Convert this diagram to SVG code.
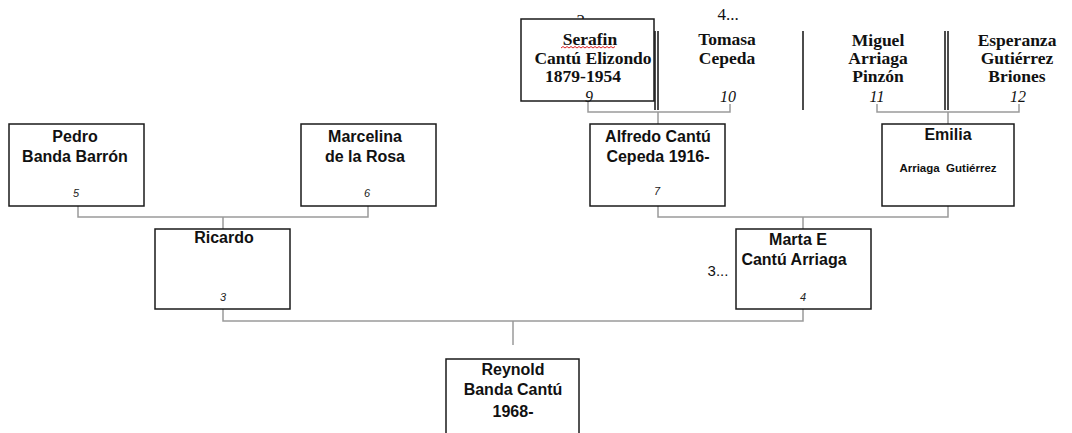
<svg xmlns="http://www.w3.org/2000/svg" width="1072" height="433" viewBox="0 0 1072 433">
<style>
.box{fill:#fff;stroke:#1a1a1a;stroke-width:1.5}
.con{fill:none;stroke:#9a9a9a;stroke-width:1.5}
.bar{stroke:#111;stroke-width:1.5}
.ns{font-family:"Liberation Sans",Arial,sans-serif;font-weight:bold;font-size:16px;fill:#111;text-anchor:middle}
.num{font-family:"Liberation Sans",Arial,sans-serif;font-style:italic;font-size:11px;fill:#222;text-anchor:middle}
.sf{font-family:"Liberation Serif","Times New Roman",serif;font-weight:bold;font-size:17.5px;fill:#111;text-anchor:middle}
.sn{font-family:"Liberation Serif","Times New Roman",serif;font-style:italic;font-size:16px;fill:#111;text-anchor:middle}
.sr{font-family:"Liberation Serif","Times New Roman",serif;font-size:17px;fill:#111;text-anchor:middle}
</style>
<rect width="1072" height="433" fill="#fff"/>
<g id="connectors">
<path class="con" d="M588 101V112H730V104M658 112V124"/>
<path class="con" d="M877 104V112H1019V104M948 112V124"/>
<path class="con" d="M78 206V217H368V206M223 217V229"/>
<path class="con" d="M658 206V217H948V206M803 217V229"/>
<path class="con" d="M223 309V321H803V309M513 321V345"/>
</g>
<g id="gen4-markers">
<text class="sr" x="587" y="26">2...</text>
<line class="bar" x1="655" y1="31" x2="655" y2="110"/>
<line class="bar" x1="658" y1="31" x2="658" y2="110"/>
<line class="bar" x1="803" y1="31" x2="803" y2="110"/>
<line class="bar" x1="945" y1="31" x2="945" y2="110"/>
<line class="bar" x1="948" y1="31" x2="948" y2="110"/>
</g>
<g id="n9">
<rect class="box" x="521" y="19" width="133" height="82"/>
<text class="sf" x="590" y="45">Serafin</text>
<path d="M561 48l2 -1.5l2 1.5l2 -1.5l2 1.5l2 -1.5l2 1.5l2 -1.5l2 1.5l2 -1.5l2 1.5l2 -1.5l2 1.5l2 -1.5l2 1.5l2 -1.5l2 1.5l2 -1.5l2 1.5l2 -1.5l2 1.5l2 -1.5l2 1.5l2 -1.5l2 1.5l2 -1.5l2 1.5l2 -1.5" fill="none" stroke="#d22" stroke-width="1"/>
<text class="sf" x="593" y="64">Cantú Elizondo</text>
<text class="sf" x="583" y="82">1879-1954</text>
<text class="sn" x="589" y="102">9</text>
</g>
<g id="n10">
<text class="sr" x="728" y="20">4...</text>
<text class="sf" x="727" y="45">Tomasa</text>
<text class="sf" x="727" y="64">Cepeda</text>
<text class="sn" x="728" y="102">10</text>
</g>
<g id="n11">
<text class="sf" x="878" y="46">Miguel</text>
<text class="sf" x="878" y="64">Arriaga</text>
<text class="sf" x="878" y="82">Pinzón</text>
<text class="sn" x="877" y="102">11</text>
</g>
<g id="n12">
<text class="sf" x="1017" y="46">Esperanza</text>
<text class="sf" x="1017" y="64">Gutiérrez</text>
<text class="sf" x="1017" y="82">Briones</text>
<text class="sn" x="1018" y="102">12</text>
</g>
<g id="n5">
<rect class="box" x="9" y="124" width="135" height="82"/>
<text class="ns" x="75" y="142">Pedro</text>
<text class="ns" x="75" y="162">Banda Barrón</text>
<text class="num" x="76" y="197">5</text>
</g>
<g id="n6">
<rect class="box" x="301" y="124" width="135" height="82"/>
<text class="ns" x="365" y="142">Marcelina</text>
<text class="ns" x="365" y="162">de la Rosa</text>
<text class="num" x="367" y="197">6</text>
</g>
<g id="n7">
<rect class="box" x="590" y="124" width="135" height="82"/>
<text class="ns" x="658" y="142">Alfredo Cantú</text>
<text class="ns" x="658" y="162">Cepeda 1916-</text>
<text class="num" x="657" y="195">7</text>
</g>
<g id="n8">
<rect class="box" x="882" y="124" width="132" height="82"/>
<text class="ns" x="948" y="140">Emilia</text>
<text class="ns" x="948" y="172" style="font-size:11.5px" xml:space="preserve">Arriaga  Gutiérrez</text>
</g>
<g id="n3">
<rect class="box" x="155" y="229" width="135" height="80"/>
<text class="ns" x="224" y="243">Ricardo</text>
<text class="num" x="223" y="301">3</text>
</g>
<g id="n4">
<rect class="box" x="736" y="229" width="135" height="80"/>
<text class="ns" x="798" y="245">Marta E</text>
<text class="ns" x="794" y="265">Cantú Arriaga</text>
<text class="num" x="803" y="301">4</text>
<text x="718" y="276" style="font-family:'Liberation Sans',Arial,sans-serif;font-size:15px;fill:#111;text-anchor:middle">3...</text>
</g>
<g id="n1">
<rect class="box" x="446" y="359" width="133" height="90"/>
<text class="ns" x="513" y="375">Reynold</text>
<text class="ns" x="513" y="395">Banda Cantú</text>
<text class="ns" x="513" y="417">1968-</text>
</g>
</svg>
